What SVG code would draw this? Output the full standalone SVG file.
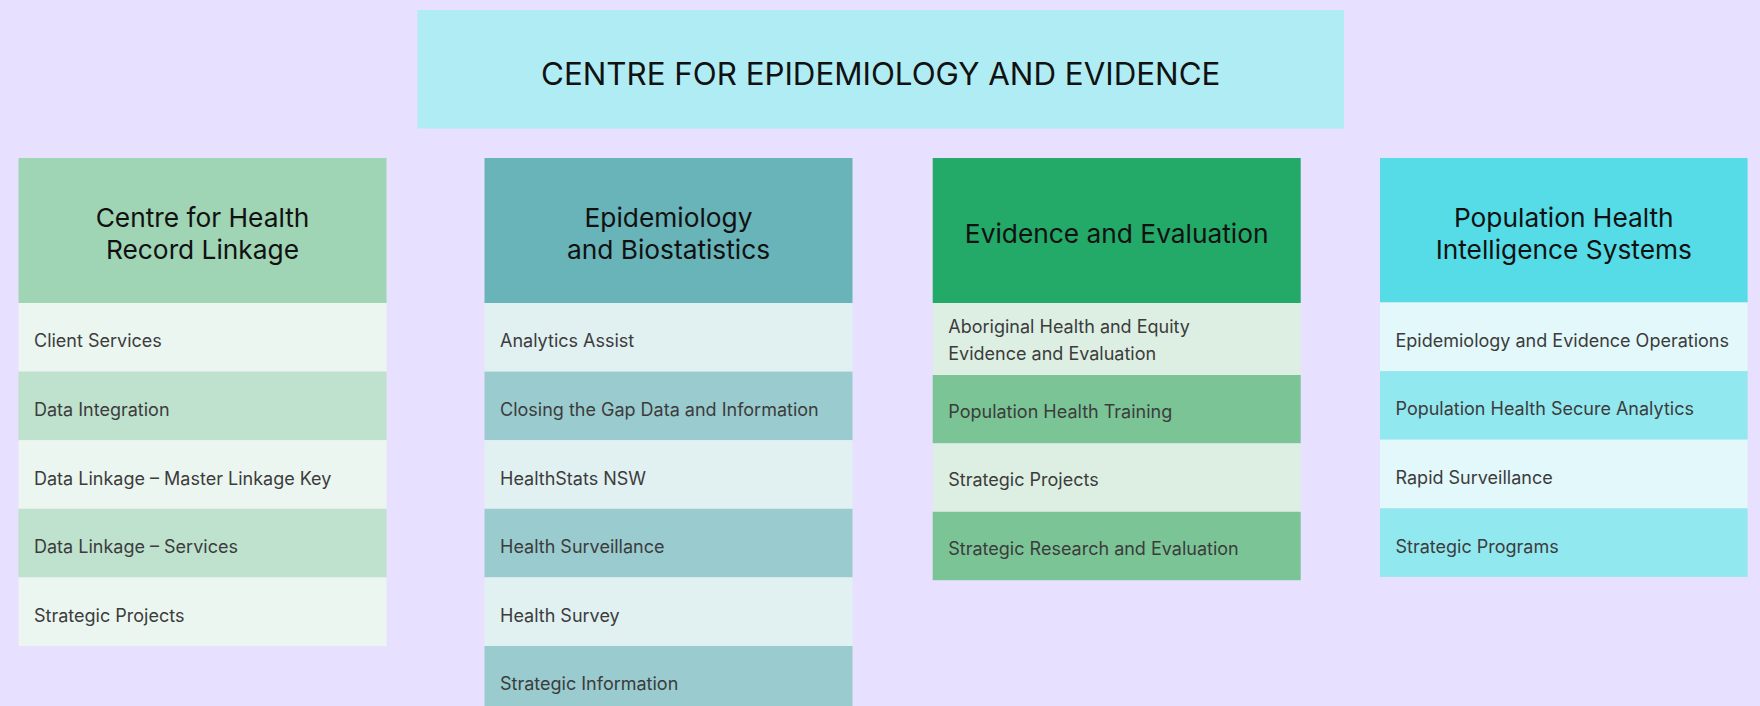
<svg xmlns="http://www.w3.org/2000/svg" width="1760" height="706" viewBox="0 0 1760 706">
<style>
.title{font-family:Inter,"Noto Sans","Liberation Sans",sans-serif;font-size:31.3px;fill:#111;text-anchor:middle}
.head{font-family:Inter,"Noto Sans","Liberation Sans",sans-serif;font-size:26.3px;fill:#111;text-anchor:middle}
.item{font-family:Inter,"Noto Sans","Liberation Sans",sans-serif;font-size:18px;fill:#3c3c3c}
</style>
<rect width="1760" height="706" fill="#E8E0FF"/>
<g id="top">
<rect x="417.5" y="10" width="926.5" height="118.5" fill="#B0ECF3"/>
<text class="title" x="880.7" y="85">CENTRE FOR EPIDEMIOLOGY AND EVIDENCE</text>
</g>
<g id="connectors"></g>
<g id="col1">
<rect x="18.5" y="158" width="368" height="145" fill="#9FD4B4"/>
<text class="head" x="202.5" y="226.5">Centre for Health</text>
<text class="head" x="202.5" y="258.5">Record Linkage</text>
<rect x="18.5" y="303" width="368" height="68.6" fill="#EBF6F0"/>
<rect x="18.5" y="371.6" width="368" height="68.6" fill="#BEE2CE"/>
<rect x="18.5" y="440.2" width="368" height="68.6" fill="#EBF6F0"/>
<rect x="18.5" y="508.8" width="368" height="68.6" fill="#BEE2CE"/>
<rect x="18.5" y="577.4" width="368" height="68.6" fill="#EBF6F0"/>
<text class="item" x="34" y="347.3">Client Services</text>
<text class="item" x="34" y="415.9">Data Integration</text>
<text class="item" x="34" y="484.5">Data Linkage – Master Linkage Key</text>
<text class="item" x="34" y="553.1">Data Linkage – Services</text>
<text class="item" x="34" y="621.7">Strategic Projects</text>
</g>
<g id="col2">
<rect x="484.5" y="158" width="368" height="145" fill="#69B4B8"/>
<text class="head" x="668.5" y="226.5">Epidemiology</text>
<text class="head" x="668.5" y="258.5">and Biostatistics</text>
<rect x="484.5" y="303" width="368" height="68.6" fill="#E1F0F1"/>
<rect x="484.5" y="371.6" width="368" height="68.6" fill="#99CBCF"/>
<rect x="484.5" y="440.2" width="368" height="68.6" fill="#E1F0F1"/>
<rect x="484.5" y="508.8" width="368" height="68.6" fill="#99CBCF"/>
<rect x="484.5" y="577.4" width="368" height="68.6" fill="#E1F0F1"/>
<rect x="484.5" y="646" width="368" height="68.6" fill="#99CBCF"/>
<text class="item" x="500" y="347.3">Analytics Assist</text>
<text class="item" x="500" y="415.9">Closing the Gap Data and Information</text>
<text class="item" x="500" y="484.5">HealthStats NSW</text>
<text class="item" x="500" y="553.1">Health Surveillance</text>
<text class="item" x="500" y="621.7">Health Survey</text>
<text class="item" x="500" y="690.3">Strategic Information</text>
</g>
<g id="col3">
<rect x="932.7" y="158" width="368" height="145" fill="#23A968"/>
<text class="head" x="1116.7" y="243">Evidence and Evaluation</text>
<rect x="932.7" y="303" width="368" height="72" fill="#DCEFE2"/>
<rect x="932.7" y="375" width="368" height="68.4" fill="#7AC496"/>
<rect x="932.7" y="443.4" width="368" height="68.4" fill="#DCEFE2"/>
<rect x="932.7" y="511.8" width="368" height="68.4" fill="#7AC496"/>
<text class="item" x="948.3" y="333.3">Aboriginal Health and Equity</text>
<text class="item" x="948.3" y="360">Evidence and Evaluation</text>
<text class="item" x="948.3" y="418">Population Health Training</text>
<text class="item" x="948.3" y="486.4">Strategic Projects</text>
<text class="item" x="948.3" y="554.8">Strategic Research and Evaluation</text>
</g>
<g id="col4">
<rect x="1380" y="158" width="367.6" height="144.5" fill="#55DCE6"/>
<text class="head" x="1563.8" y="226.5">Population Health</text>
<text class="head" x="1563.8" y="258.5">Intelligence Systems</text>
<rect x="1380" y="302.5" width="367.6" height="68.6" fill="#E3F8FA"/>
<rect x="1380" y="371.1" width="367.6" height="68.6" fill="#92E8EF"/>
<rect x="1380" y="439.7" width="367.6" height="68.6" fill="#E3F8FA"/>
<rect x="1380" y="508.3" width="367.6" height="68.6" fill="#92E8EF"/>
<text class="item" x="1395.5" y="346.8">Epidemiology and Evidence Operations</text>
<text class="item" x="1395.5" y="415.4">Population Health Secure Analytics</text>
<text class="item" x="1395.5" y="484">Rapid Surveillance</text>
<text class="item" x="1395.5" y="552.6">Strategic Programs</text>
</g>
</svg>
